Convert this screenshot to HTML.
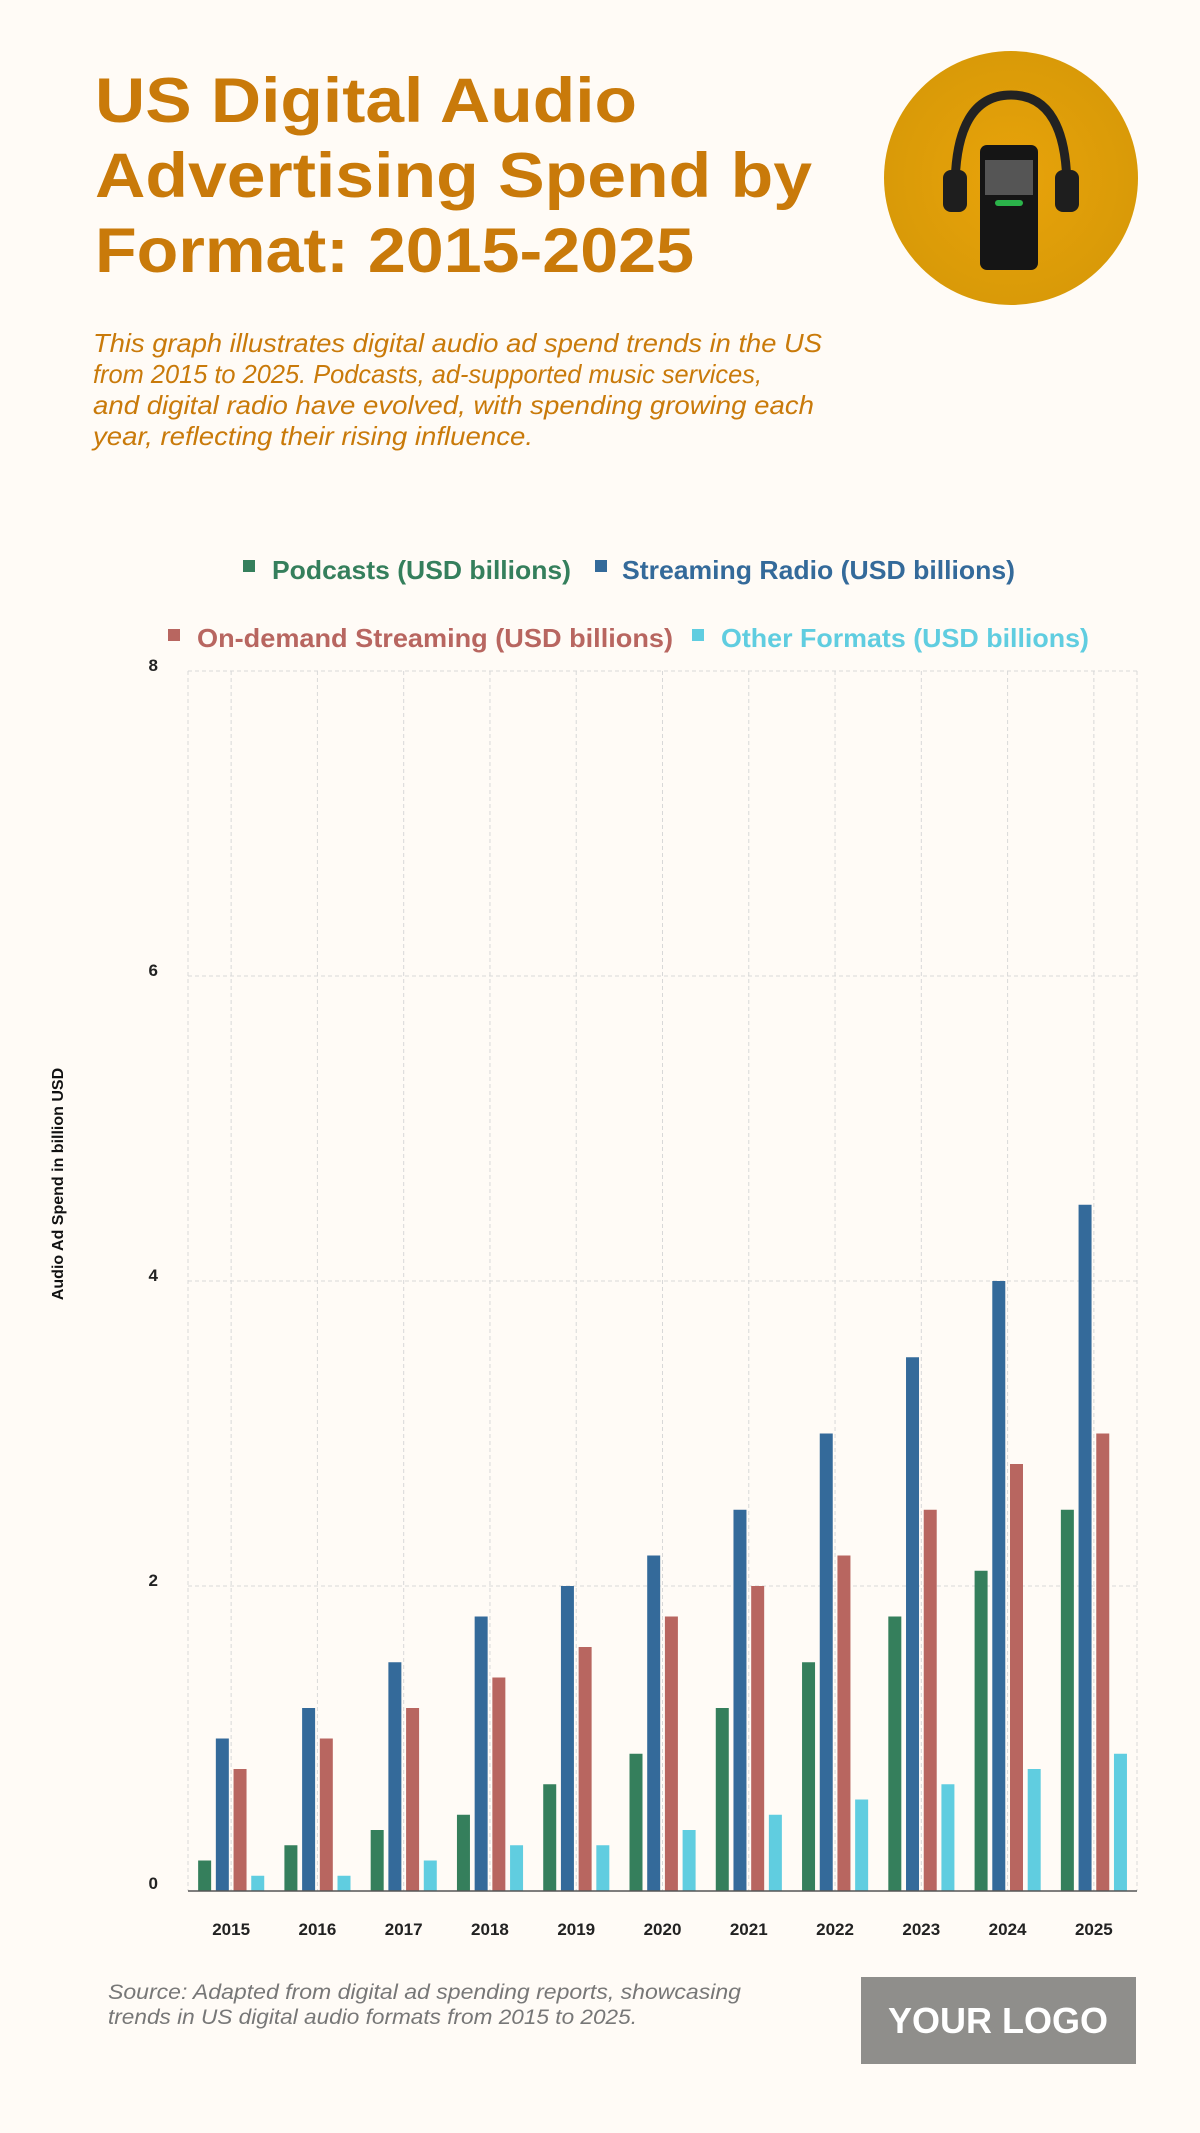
<!DOCTYPE html>
<html><head><meta charset="utf-8"><style>
html,body{margin:0;padding:0;background:#fffbf6;}
body{width:1200px;height:2133px;position:relative;overflow:hidden;font-family:"Liberation Sans",sans-serif;}
</style></head><body>
<svg width="1200" height="2133" xmlns="http://www.w3.org/2000/svg" style="position:absolute;left:0;top:0">
<rect width="1200" height="2133" fill="#fffbf6"/>
<g font-family="Liberation Sans, sans-serif" font-weight="bold" font-size="63" fill="#c97a0a" lengthAdjust="spacingAndGlyphs">
<text x="95" y="122" textLength="542" lengthAdjust="spacingAndGlyphs">US Digital Audio</text>
<text x="95" y="197" textLength="717" lengthAdjust="spacingAndGlyphs">Advertising Spend by</text>
<text x="95" y="272" textLength="599" lengthAdjust="spacingAndGlyphs">Format: 2015-2025</text>
</g>
<g font-family="Liberation Sans, sans-serif" font-style="italic" font-size="26" fill="#c97a0a">
<text x="93" y="352" textLength="729" lengthAdjust="spacingAndGlyphs">This graph illustrates digital audio ad spend trends in the US</text>
<text x="93" y="383" textLength="669" lengthAdjust="spacingAndGlyphs">from 2015 to 2025. Podcasts, ad-supported music services,</text>
<text x="93" y="414" textLength="721" lengthAdjust="spacingAndGlyphs">and digital radio have evolved, with spending growing each</text>
<text x="93" y="445" textLength="440" lengthAdjust="spacingAndGlyphs">year, reflecting their rising influence.</text>
</g>
<defs><radialGradient id="g" cx="50%" cy="50%" r="50%"><stop offset="0" stop-color="#e8a30a"/><stop offset="1" stop-color="#d99a08"/></radialGradient></defs>
<circle cx="1011" cy="178" r="127" fill="url(#g)"/>
<path d="M955 190 Q955 95 1011 95 Q1067 95 1067 190" fill="none" stroke="#222" stroke-width="9"/>
<rect x="943" y="170" width="24" height="42" rx="8" fill="#1e1e1e"/>
<rect x="1055" y="170" width="24" height="42" rx="8" fill="#1e1e1e"/>
<rect x="980" y="145" width="58" height="125" rx="7" fill="#151515"/>
<rect x="985" y="160" width="48" height="35" fill="#555"/>
<rect x="995" y="200" width="28" height="6" rx="3" fill="#2bb34a"/>
<g font-family="Liberation Sans, sans-serif" font-weight="bold" font-size="26">
<rect x="243" y="560" width="12" height="12" fill="#357f5c"/><text x="272" y="579" fill="#357f5c" textLength="299" lengthAdjust="spacingAndGlyphs">Podcasts (USD billions)</text>
<rect x="595" y="560" width="12" height="12" fill="#346a9a"/><text x="622" y="579" fill="#346a9a" textLength="393" lengthAdjust="spacingAndGlyphs">Streaming Radio (USD billions)</text>
<rect x="168" y="629" width="12" height="12" fill="#b86660"/><text x="197" y="647" fill="#b86660" textLength="476" lengthAdjust="spacingAndGlyphs">On-demand Streaming (USD billions)</text>
<rect x="692" y="629" width="12" height="12" fill="#60cde0"/><text x="721" y="647" fill="#60cde0" textLength="368" lengthAdjust="spacingAndGlyphs">Other Formats (USD billions)</text>
</g>
<g id="grid" stroke="#d8d8d8" stroke-width="1" stroke-dasharray="4,3" fill="none"></g>
<g id="bars"></g>
<line x1="188" y1="1891" x2="1137" y2="1891" stroke="#555" stroke-width="1.5"/>
<g id="labels" font-family="Liberation Sans, sans-serif" font-size="17" font-weight="bold" fill="#222"></g>
<text transform="translate(63,1184) rotate(-90)" text-anchor="middle" font-family="Liberation Sans, sans-serif" font-size="16" font-weight="bold" fill="#111">Audio Ad Spend in billion USD</text>
<g font-family="Liberation Sans, sans-serif" font-style="italic" font-size="21" fill="#777">
<text x="108" y="1999" textLength="633" lengthAdjust="spacingAndGlyphs">Source: Adapted from digital ad spending reports, showcasing</text>
<text x="108" y="2024" textLength="529" lengthAdjust="spacingAndGlyphs">trends in US digital audio formats from 2015 to 2025.</text>
</g>
<rect x="861" y="1977" width="275" height="87" fill="#8f8e8b"/>
<text x="998" y="2033" text-anchor="middle" font-family="Liberation Sans, sans-serif" font-weight="bold" font-size="36" fill="#fff">YOUR LOGO</text>
</svg>
<script>
var NS="http://www.w3.org/2000/svg";
function el(p,t,a,txt){var e=document.createElementNS(NS,t);for(var k in a)e.setAttribute(k,a[k]);if(txt!=null)e.textContent=txt;p.appendChild(e);return e;}
var L=188,R=1137,T=671,B=1891,u=(B-T)/8,cw=(R-L)/11;
var grid=document.getElementById('grid'),bars=document.getElementById('bars'),lab=document.getElementById('labels');
[2,4,6,8].forEach(function(v){el(grid,'line',{x1:L,x2:R,y1:B-v*u,y2:B-v*u});});
el(grid,'line',{x1:L,x2:L,y1:T,y2:B});el(grid,'line',{x1:R,x2:R,y1:T,y2:B});
[0,2,4,6,8].forEach(function(v){el(lab,'text',{x:158,y:B-v*u+(v==0?-2:0),'text-anchor':'end'},v);});
var d=[[0.2,0.3,0.4,0.5,0.7,0.9,1.2,1.5,1.8,2.1,2.5],[1.0,1.2,1.5,1.8,2.0,2.2,2.5,3.0,3.5,4.0,4.5],[0.8,1.0,1.2,1.4,1.6,1.8,2.0,2.2,2.5,2.8,3.0],[0.1,0.1,0.2,0.3,0.3,0.4,0.5,0.6,0.7,0.8,0.9]];
var c=['#357f5c','#346a9a','#b86660','#60cde0'];
for(var i=0;i<11;i++){var cx=L+cw*(i+0.5);
el(grid,'line',{x1:cx,x2:cx,y1:T,y2:B});
el(lab,'text',{x:cx,y:1935,'text-anchor':'middle'},2015+i);
for(var s=0;s<4;s++){var h=d[s][i]*u;el(bars,'rect',{x:cx-26.5+s*17.7-6.5,y:B-h,width:13,height:h,fill:c[s]});}}
</script>
</body></html>
